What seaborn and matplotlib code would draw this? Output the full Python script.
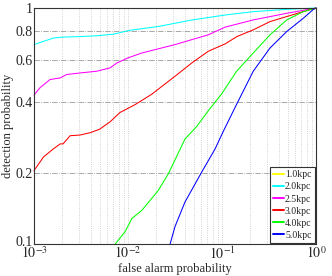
import pandas as pd
import matplotlib
matplotlib.use("Agg")
import matplotlib.pyplot as plt
import matplotlib.transforms as mtransforms
import seaborn as sns

# ROC curves
labels = ["1.0kpc", "2.0kpc", "2.5kpc", "3.0kpc", "4.0kpc", "5.0kpc"]
colors = ["#ffff00", "#00ffff", "#ff00ff", "#ff0000", "#00ff00", "#0000ff"]

x_10 = [0.001, 1.0]
y_10 = [1.0, 1.0]

x_20 = [0.001, 0.00126, 0.0016, 0.002, 0.0031, 0.0047, 0.007, 0.0105, 0.021, 0.048, 0.108, 0.214, 0.49, 1.0]
y_20 = [0.70, 0.722, 0.746, 0.753, 0.757, 0.763, 0.775, 0.805, 0.835, 0.89, 0.934, 0.965, 0.987, 1.0]

x_25 = [0.001, 0.00116, 0.00148, 0.0019, 0.00223, 0.0031, 0.00465, 0.00646, 0.0076, 0.01, 0.014,
        0.0316, 0.0714, 0.108, 0.214, 0.49, 1.0]
y_25 = [0.428, 0.46, 0.498, 0.506, 0.523, 0.531, 0.54, 0.558, 0.585, 0.615, 0.645,
        0.70, 0.77, 0.83, 0.89, 0.95, 1.0]

x_30 = [0.001, 0.00126, 0.0016, 0.0019, 0.00204, 0.00242, 0.0031, 0.004, 0.005, 0.00646, 0.0082,
        0.0105, 0.0119, 0.0178, 0.0316, 0.0476, 0.0714, 0.108, 0.145, 0.215, 0.324, 0.488, 0.728, 1.0]
y_30 = [0.205, 0.234, 0.253, 0.266, 0.266, 0.288, 0.29, 0.297, 0.307, 0.33, 0.361,
        0.38, 0.39, 0.431, 0.514, 0.585, 0.656, 0.705, 0.758, 0.808, 0.876, 0.92, 0.965, 1.0]

x_40 = [0.00728, 0.0093, 0.011, 0.014, 0.021, 0.0269, 0.0404, 0.0537, 0.0714, 0.1, 0.143,
        0.215, 0.324, 0.488, 0.733, 1.0]
y_40 = [0.1, 0.113, 0.1286, 0.139, 0.169, 0.199, 0.279, 0.315, 0.367, 0.435, 0.54,
        0.645, 0.77, 0.89, 0.965, 1.0]

x_50 = [0.028, 0.0316, 0.0404, 0.0608, 0.0843, 0.103, 0.143, 0.215, 0.324, 0.488, 0.733, 0.933, 1.0]
y_50 = [0.1, 0.1187, 0.151, 0.202, 0.253, 0.30, 0.391, 0.54, 0.677, 0.795, 0.905, 0.985, 1.0]

xs = [x_10, x_20, x_25, x_30, x_40, x_50]
ys = [y_10, y_20, y_25, y_30, y_40, y_50]

frames = []
for lab, x, y in zip(labels, xs, ys):
    frames.append(pd.DataFrame({"pfa": x, "pd": y, "dist": lab}))
df = pd.concat(frames, ignore_index=True)

sns.set_style("white")
plt.rcParams["font.family"] = ["Liberation Serif", "DejaVu Serif"]
plt.rcParams["mathtext.fontset"] = "stix"

fig = plt.figure(figsize=(3.32, 2.76), dpi=100)
ax = fig.add_axes([0.1024, 0.115, 0.8494, 0.856])

sns.lineplot(data=df, x="pfa", y="pd", hue="dist", palette=colors, estimator=None,
             sort=False, linewidth=0.75, ax=ax, clip_on=False)

ax.set_xscale("log")
ax.set_yscale("log")
ax.set_xlim(1e-3, 1)
ax.set_ylim(0.1, 1)
ax.set_yticks([0.1, 0.2, 0.4, 0.6, 0.8, 1])
ax.set_yticklabels(["0.1", "0.2", "0.4", "0.6", "0.8", "1"])
ax.yaxis.set_minor_locator(matplotlib.ticker.NullLocator())
ax.set_xticks([1e-3, 1e-2, 1e-1, 1])
ax.set_xticklabels([r"$10^{-3}$", r"$10^{-2}$", r"$10^{-1}$", r"$10^{0}$"])

ax.grid(True, which="major", axis="y", color="#999999", linestyle="-.", linewidth=0.6)
ax.grid(True, which="both", axis="x", color="#c4c4c4", linestyle=":", linewidth=0.6)
ax.tick_params(which="both", direction="in", labelsize=10, length=3, color="#333333")
ax.tick_params(axis="y", pad=1)
ax.tick_params(axis="x", pad=1)
ax.tick_params(which="minor", length=1.5)
for s in ax.spines.values():
    s.set_color("#333333")
    s.set_linewidth(0.8)

# nudge the bottom y label up a little so it clears 10^-3
lab0 = ax.get_yticklabels()[0]
lab0.set_transform(lab0.get_transform() + mtransforms.ScaledTranslation(0, 2 / 72, fig.dpi_scale_trans))

ax.set_xlabel("false alarm probability", fontsize=9, labelpad=0.5)
ax.set_ylabel("detection probability", fontsize=9, labelpad=1)

leg = ax.legend(loc="lower right", fontsize=7, handlelength=1.1, handletextpad=0.15,
                borderpad=0.3, labelspacing=0.32, borderaxespad=0.15, fancybox=False,
                framealpha=1, edgecolor="#333333")
leg.get_frame().set_linewidth(0.8)
for ln in leg.get_lines():
    ln.set_linewidth(1.4)

fig.savefig("out.png", dpi=100)
